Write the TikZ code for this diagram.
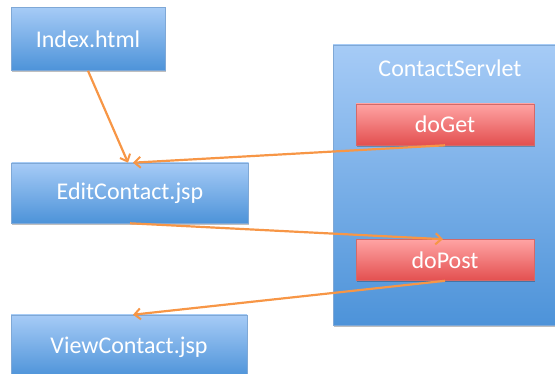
\documentclass[tikz,border=0pt]{standalone}
\usepackage{fontspec}
\setmainfont{Carlito}
\usetikzlibrary{arrows.meta,shadows}
\definecolor{bluetop}{HTML}{A6CBF6}
\definecolor{bluebot}{HTML}{4D93D9}
\definecolor{blueedge}{HTML}{7FA8D6}
\definecolor{redtop}{HTML}{FFA3A3}
\definecolor{redbot}{HTML}{E35050}
\definecolor{rededge}{HTML}{D26A6A}
\definecolor{flow}{HTML}{F79646}
\tikzset{
  boxfont/.style={text=white, font=\fontsize{24}{28}\selectfont},
  bluebox/.style={draw=blueedge, line width=0.6pt, top color=bluetop, bottom color=bluebot,
    boxfont, inner sep=0pt,
    drop shadow={shadow xshift=0.8pt, shadow yshift=-2pt, opacity=0.25, fill=black}},
  redbox/.style={draw=rededge, line width=0.6pt, top color=redtop, bottom color=redbot,
    boxfont, inner sep=0pt,
    minimum width=178pt, minimum height=41pt,
    drop shadow={shadow xshift=0.8pt, shadow yshift=-2pt, opacity=0.25, fill=black}},
  flowline/.style={draw=flow, line width=2.2pt, -{Straight Barb[length=6pt,width=11pt,line width=2pt]}}
}
\begin{document}
\begin{tikzpicture}[x=1pt,y=-1pt]
  \useasboundingbox (0,0) rectangle (555,374);
  \clip (0,0) rectangle (555,374);
  % servlet container
  \node[bluebox, minimum width=227pt, minimum height=280pt] (servlet) at (446.5,185) {};
  \node[boxfont] (servlettitle) at (450,68) {ContactServlet};
  \node[redbox] (doget) at (445,124.5) {doGet};
  \node[redbox] (dopost) at (445,260) {doPost};
  % pages
  \node[bluebox, minimum width=154pt, minimum height=63pt] (index) at (88,39) {Index.html};
  \node[bluebox, minimum width=237pt, minimum height=60pt] (edit) at (130,193) {EditContact.jsp};
  \node[bluebox, minimum width=236pt, minimum height=62pt] (view) at (129,346) {};
  \node[boxfont] (viewlabel) at (129,347) {ViewContact.jsp};
  % request flow
  \draw[flowline] (index.south) -- ([xshift=-2pt]edit.north);
  \draw[flowline] (doget.south) -- ([xshift=3pt]edit.north);
  \draw[flowline] (edit.south) -- ([xshift=-2pt]dopost.north);
  \draw[flowline] (dopost.south) -- ([xshift=4pt]view.north);
\end{tikzpicture}
\end{document}
